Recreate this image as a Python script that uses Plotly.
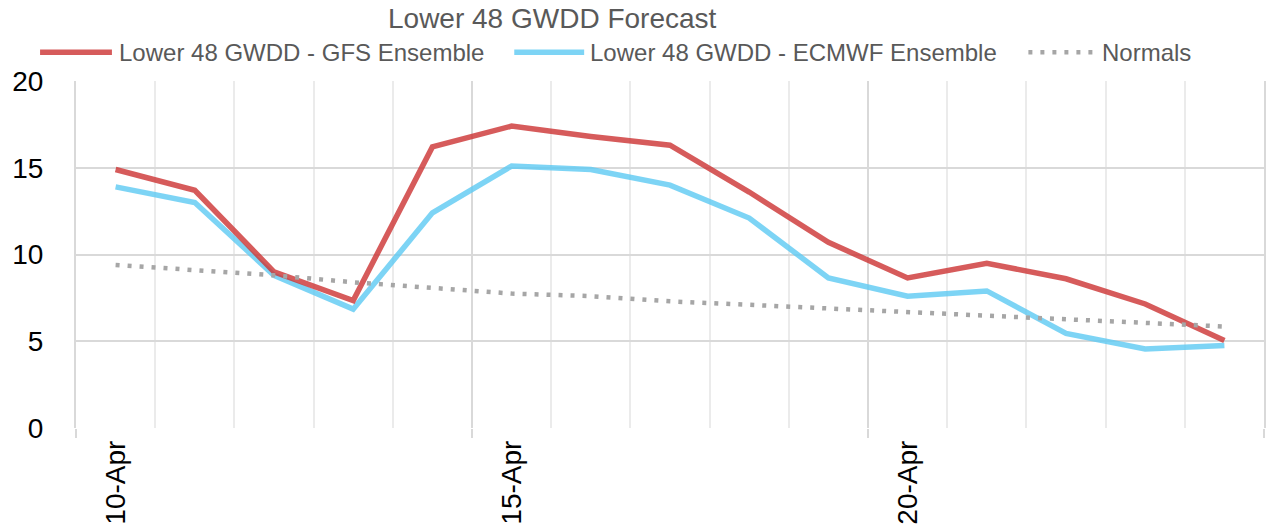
import plotly.graph_objects as go

# ---- data ----
dates = ["10-Apr", "11-Apr", "12-Apr", "13-Apr", "14-Apr", "15-Apr", "16-Apr", "17-Apr",
         "18-Apr", "19-Apr", "20-Apr", "21-Apr", "22-Apr", "23-Apr", "24-Apr"]
gfs = [14.9, 13.7, 9.0, 7.35, 16.2, 17.4, 16.8, 16.3, 13.6, 10.7, 8.65, 9.5, 8.6, 7.15, 5.05]
ecmwf = [13.9, 13.0, 8.8, 6.85, 12.4, 15.1, 14.9, 14.0, 12.1, 8.65, 7.6, 7.9, 5.45, 4.55, 4.75]
normals = [9.4, 9.1, 8.8, 8.4, 8.1, 7.75, 7.6, 7.3, 7.1, 6.9, 6.7, 6.5, 6.25, 6.1, 5.85]
label_every = 5
title_text = "Lower 48 GWDD Forecast"
names = ["Lower 48 GWDD - GFS Ensemble", "Lower 48 GWDD - ECMWF Ensemble", "Normals"]

RED = "rgba(205,55,55,0.82)"
BLUE = "rgba(92,201,243,0.8)"
GRAY = "#A6A6A6"
FONT = "Liberation Sans, Arial, sans-serif"

W, H = 1272, 531
L, R, T, B = 76, 6, 81, 100
pw, ph = W - L - R, H - T - B

x = list(range(len(dates)))
bounds = [i - 0.5 for i in range(len(dates) + 1)]
major_bounds = bounds[::label_every]
tickvals = x[::label_every]

fig = go.Figure()
fig.add_trace(go.Scatter(x=x, y=ecmwf, mode="lines", name=names[1],
                         line=dict(color=BLUE, width=5.5), showlegend=False))
fig.add_trace(go.Scatter(x=x, y=gfs, mode="lines", name=names[0],
                         line=dict(color=RED, width=5.5), showlegend=False))
fig.add_trace(go.Scatter(x=x, y=normals, mode="lines", name=names[2], xaxis="x2",
                         line=dict(color=GRAY, width=4.5, dash="4px,8px"), showlegend=False))

rng = [bounds[0], bounds[-1]]
fig.update_layout(
    width=W, height=H,
    margin=dict(l=L, r=R, t=T, b=B),
    paper_bgcolor="white", plot_bgcolor="white",
    font=dict(family=FONT, color="black"),
    xaxis=dict(range=rng, tickmode="array", tickvals=tickvals,
               ticktext=[dates[i] for i in tickvals], tickangle=-90,
               showgrid=False, zeroline=False, showline=False, ticks="",
               tickfont=dict(size=28, color="black"), ticklabelstandoff=6,
               minor=dict(tickmode="array", tickvals=bounds, showgrid=True,
                          gridcolor="#EBEBEB", gridwidth=1.6, ticks="")),
    xaxis2=dict(range=rng, overlaying="x", anchor="y", side="bottom",
                tickmode="array", tickvals=major_bounds, showticklabels=False,
                showgrid=True, gridcolor="#D9D9D9", gridwidth=2,
                ticks="outside", ticklen=9, tickwidth=2, tickcolor="#D9D9D9",
                zeroline=False, showline=False),
    yaxis=dict(range=[0, 20], tickmode="array", tickvals=[0, 5, 10, 15, 20],
               showgrid=True, gridcolor="#D9D9D9", gridwidth=2, zeroline=False,
               showline=True, mirror=True, linecolor="#D9D9D9", linewidth=2,
               ticks="", tickfont=dict(size=28, color="black"),
               ticklabelstandoff=25),
)

def px_x(p):
    return (p - L) / pw

def px_y(p):
    return (H - B - p) / ph

shapes = []
annotations = [dict(text=title_text, x=px_x(553), y=px_y(18), xref="paper", yref="paper",
                    xanchor="center", yanchor="middle", showarrow=False,
                    font=dict(size=28, color="#595959", family=FONT))]
legend_items = [
    (40, 112, 117, RED, 5.5, "solid", names[0]),
    (515, 585, 589, BLUE, 5.5, "solid", names[1]),
    (1030, 1096, 1102, GRAY, 4.5, "4px,8px", names[2]),
]
ly = 52
for x0, x1, tx, col, w, dash, name in legend_items:
    shapes.append(dict(type="line", xref="paper", yref="paper",
                       x0=px_x(x0), x1=px_x(x1), y0=px_y(ly), y1=px_y(ly),
                       line=dict(color=col, width=w, dash=dash)))
    annotations.append(dict(text=name, x=px_x(tx), y=px_y(ly), xref="paper", yref="paper",
                            xanchor="left", yanchor="middle", showarrow=False,
                            font=dict(size=24, color="#595959", family=FONT)))
fig.update_layout(shapes=shapes, annotations=annotations)

fig.write_html("out.html")
